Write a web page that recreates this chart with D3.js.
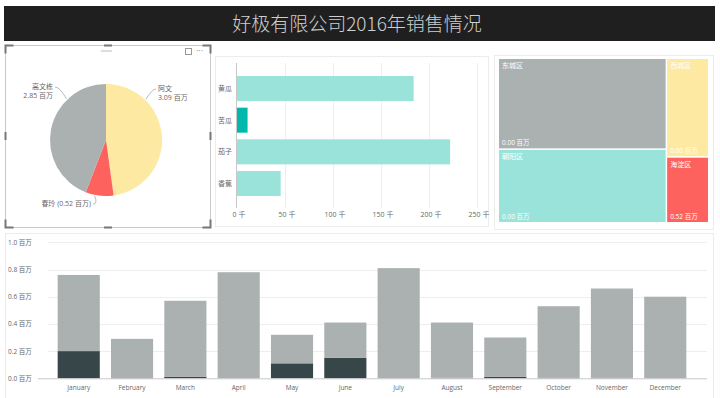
<!DOCTYPE html>
<html>
<head>
<meta charset="utf-8">
<script src="https://cdn.jsdelivr.net/npm/d3@7"></script>
<style>
  body { margin: 0; background: #fff; }
  svg { display: block; font-family: "Open Sans", "Noto Sans CJK SC", sans-serif; }
</style>
</head>
<body>
<svg width="720" height="398"></svg>
<script>
// data
var title = "好极有限公司2016年销售情况";

var pieNames = ["阿文", "春玲", "高文栋"];
var pieValues = [3.09, 0.52, 2.85];

var products = ["黄瓜", "苦瓜", "茄子", "香蕉"];
var productSales = [184, 11, 222, 45.5]; // 千
var productTicks = [0, 50, 100, 150, 200, 250];

var districts = ["东城区", "朝阳区", "西城区", "海淀区"];
var districtValues = [2.85, 2.31, 0.78, 0.52];
var districtLabels = ["0.00 百万", "0.00 百万", "0.00 百万", "0.52 百万"];
var districtColumns = [[0, 1], [2, 3]];

var months = ["January", "February", "March", "April", "May", "June", "July",
  "August", "September", "October", "November", "December"];
var monthDark = [0.20, 0.005, 0.012, 0, 0.11, 0.15, 0, 0.004, 0.012, 0.003, 0.003, 0];
var monthRest = [0.56, 0.285, 0.558, 0.78, 0.21, 0.26, 0.81, 0.406, 0.288, 0.527, 0.657, 0.60];
var monthTicks = [0, 0.2, 0.4, 0.6, 0.8, 1.0];

var svg = d3.select("svg");
var labelColor = "#666";

// title bar
svg.append("rect").attr("x", 4).attr("y", 6).attr("width", 711).attr("height", 35).attr("fill", "#1f1f1f");
svg.append("text").attr("x", 357).attr("y", 31).attr("text-anchor", "middle")
  .attr("fill", "#cfcfcf").attr("font-size", 19)
  .attr("font-family", "'Noto Sans CJK SC', sans-serif").attr("font-weight", 300)
  .text(title);

// panels
function panel(x, y, w, h) {
  svg.append("rect").attr("x", x + 0.5).attr("y", y + 0.5).attr("width", w).attr("height", h)
    .attr("fill", "none").attr("stroke", "#ececec");
}
panel(215, 56, 273, 170);
panel(494, 55, 219, 174);
panel(5, 233, 708, 170);

// pie panel, selected frame
svg.append("rect").attr("x", 5.5).attr("y", 45.5).attr("width", 205).attr("height", 182)
  .attr("fill", "none").attr("stroke", "#c8c8c8");
var corners = [[5.5, 45.5, 1, 1], [210.5, 45.5, -1, 1], [5.5, 227.5, 1, -1], [210.5, 227.5, -1, -1]];
corners.forEach(function (c) {
  svg.append("path")
    .attr("d", "M" + (c[0] + 8 * c[2]) + "," + c[1] + "H" + c[0] + "V" + (c[1] + 8 * c[3]))
    .attr("fill", "none").attr("stroke", "#777").attr("stroke-width", 2);
});
[[108, 45.5, 8, 0], [108, 227.5, 8, 0], [5.5, 136, 0, 8], [210.5, 136, 0, 8]].forEach(function (h) {
  svg.append("line").attr("x1", h[0] - h[2] / 2).attr("x2", h[0] + h[2] / 2)
    .attr("y1", h[1] - h[3] / 2).attr("y2", h[1] + h[3] / 2)
    .attr("stroke", "#777").attr("stroke-width", 2);
});
svg.append("line").attr("x1", 101).attr("x2", 112).attr("y1", 51).attr("y2", 51).attr("stroke", "#bbb");
svg.append("rect").attr("x", 185.5).attr("y", 48.5).attr("width", 6).attr("height", 6)
  .attr("fill", "none").attr("stroke", "#999");
svg.append("text").attr("x", 196).attr("y", 54).attr("font-size", 9).attr("fill", "#888").text("···");

// pie
var pieColors = ["#fde9a2", "#fd625e", "#abb0b1"];
var cx = 106, cy = 140, r = 56;
var arcs = d3.pie().sort(null)(pieValues);
var arc = d3.arc().innerRadius(0).outerRadius(r);
var pg = svg.append("g").attr("transform", "translate(" + cx + "," + cy + ")");
pg.selectAll("path").data(arcs).enter().append("path")
  .attr("d", arc).attr("fill", function (d, i) { return pieColors[i]; });

var leaders = [
  { tx: 158, ty: 91, anchor: "start" },
  { tx: 91, ty: 206, anchor: "end" },
  { tx: 53, ty: 89, anchor: "end" }
];
arcs.forEach(function (d, i) {
  var L = leaders[i];
  var ex = L.anchor === "start" ? L.tx - 2 : L.tx + 2;
  var ey = L.ty - 2;
  var ang = Math.atan2(ey - cy, ex - cx);
  var px = cx + (r + 1) * Math.cos(ang), py = cy + (r + 1) * Math.sin(ang);
  var kx = ex + (L.anchor === "start" ? -4 : 5);
  svg.append("path")
    .attr("d", "M" + px + "," + py + "Q" + kx + "," + ey + " " + ex + "," + ey)
    .attr("fill", "none").attr("stroke", "#aaa").attr("stroke-width", 0.8);
  var t = svg.append("text").attr("x", L.tx).attr("y", L.ty).attr("text-anchor", L.anchor)
    .attr("font-size", 7).attr("fill", labelColor);
  if (i === 1) {
    t.text(pieNames[i] + " (" + pieValues[i].toFixed(2) + " 百万)");
  } else {
    t.text(pieNames[i]);
    svg.append("text").attr("x", L.tx).attr("y", L.ty + 9)
      .attr("text-anchor", L.anchor).attr("font-size", 7).attr("fill", labelColor)
      .text(pieValues[i].toFixed(2) + " 百万");
  }
});

// horizontal bar chart
var bx = d3.scaleLinear().domain([0, 250]).range([237, 477]);
var by = d3.scaleBand().domain(products).range([66, 206]).paddingInner(0.21).paddingOuter(0.315);
svg.append("g").selectAll("line").data(productTicks.slice(1)).enter().append("line")
  .attr("x1", function (d) { return bx(d) + 0.5; }).attr("x2", function (d) { return bx(d) + 0.5; })
  .attr("y1", 63).attr("y2", 208).attr("stroke", "#eeeeee");
svg.append("line").attr("x1", 236.5).attr("x2", 236.5).attr("y1", 63).attr("y2", 208).attr("stroke", "#c8c8c8");
svg.append("g").selectAll("rect").data(products).enter().append("rect")
  .attr("x", bx(0)).attr("y", function (d) { return by(d); })
  .attr("width", function (d, i) { return bx(productSales[i]) - bx(0); })
  .attr("height", by.bandwidth())
  .attr("fill", function (d, i) { return i === 1 ? "#01b8aa" : "#99e3db"; });
svg.append("g").selectAll("text").data(products).enter().append("text")
  .attr("x", 232).attr("y", function (d) { return by(d) + by.bandwidth() / 2 + 2.5; })
  .attr("text-anchor", "end").attr("font-size", 7).attr("fill", labelColor)
  .text(function (d) { return d; });
svg.append("g").selectAll("text").data(productTicks).enter().append("text")
  .attr("x", function (d) { return bx(d) + 2; }).attr("y", 217)
  .attr("text-anchor", "middle").attr("font-size", 7).attr("fill", labelColor)
  .text(function (d) { return d + " 千"; });

// treemap
var tmColors = ["#abb0b1", "#99e3db", "#fde9a2", "#fd625e"];
var tmRoot = d3.hierarchy({
  children: districtColumns.map(function (col) {
    return { children: col.map(function (i) { return { idx: i, value: districtValues[i] }; }) };
  })
}).sum(function (d) { return d.value || 0; });
d3.treemap().tile(d3.treemapSliceDice).size([209, 163]).paddingInner(1.5)(tmRoot);
var tg = svg.append("g").attr("transform", "translate(499,59)");
var leaves = tg.selectAll("g").data(tmRoot.leaves()).enter().append("g")
  .attr("transform", function (d) { return "translate(" + d.x0 + "," + d.y0 + ")"; });
leaves.append("rect")
  .attr("width", function (d) { return d.x1 - d.x0; })
  .attr("height", function (d) { return d.y1 - d.y0; })
  .attr("fill", function (d) { return tmColors[d.data.idx]; });
leaves.append("text").attr("x", 3).attr("y", 9).attr("font-size", 7).attr("fill", "#fff")
  .text(function (d) { return districts[d.data.idx]; });
leaves.append("text").attr("x", 3).attr("y", function (d) { return d.y1 - d.y0 - 3; })
  .attr("font-size", 6.5).attr("fill", "#fff")
  .text(function (d) { return districtLabels[d.data.idx]; });

// monthly stacked columns
var mx = d3.scaleBand().domain(months).range([47, 697]).paddingInner(0.21).paddingOuter(0.2);
var my = d3.scaleLinear().domain([0, 1]).range([378.3, 242.3]);
svg.append("g").selectAll("line").data(monthTicks.slice(1)).enter().append("line")
  .attr("x1", 48).attr("x2", 707)
  .attr("y1", function (d) { return Math.round(my(d)) + 0.5; })
  .attr("y2", function (d) { return Math.round(my(d)) + 0.5; })
  .attr("stroke", "#eeeeee");
svg.append("g").selectAll("text").data(monthTicks).enter().append("text")
  .attr("x", 8).attr("y", function (d) { return my(d) + 2.5; })
  .attr("font-size", 6.5).attr("fill", labelColor)
  .text(function (d) { return d.toFixed(1) + " 百万"; });

var rows = months.map(function (m, i) { return { month: m, dark: monthDark[i], rest: monthRest[i] }; });
var stacked = d3.stack().keys(["dark", "rest"])(rows);
var stackColors = { dark: "#374649", rest: "#abb0b1" };
svg.append("g").selectAll("g").data(stacked).enter().append("g")
  .attr("fill", function (s) { return stackColors[s.key]; })
  .selectAll("rect").data(function (s) { return s; }).enter().append("rect")
  .attr("x", function (d) { return mx(d.data.month); })
  .attr("y", function (d) { return my(d[1]); })
  .attr("width", mx.bandwidth())
  .attr("height", function (d) { return my(d[0]) - my(d[1]); });
svg.append("line").attr("x1", 38).attr("x2", 707).attr("y1", 378.8).attr("y2", 378.8)
  .attr("stroke", "#c8c8c8");
svg.append("g").selectAll("text").data(months).enter().append("text")
  .attr("x", function (d) { return mx(d) + mx.bandwidth() / 2; }).attr("y", 390)
  .attr("text-anchor", "middle").attr("font-size", 6.5).attr("fill", labelColor)
  .text(function (d) { return d; });
</script>
</body>
</html>
